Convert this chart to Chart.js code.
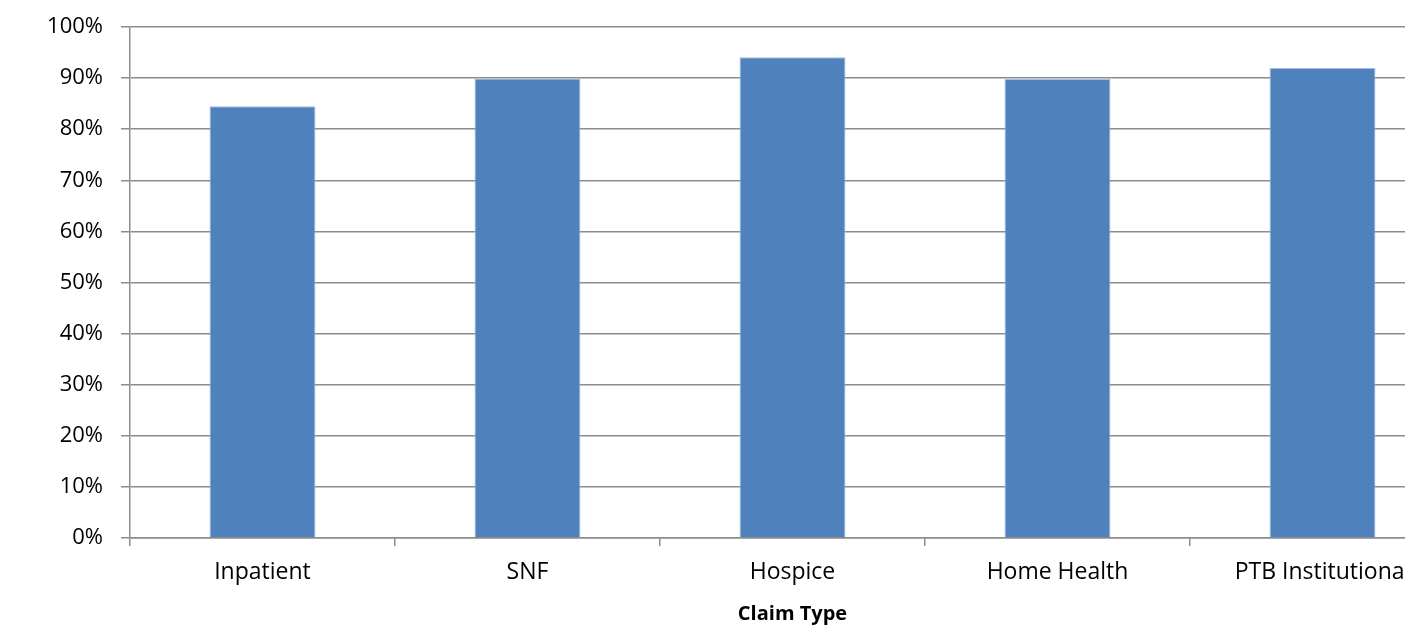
<!DOCTYPE html>
<html>
<head>
<meta charset="utf-8">
<title>Claim Type</title>
<script src="https://cdn.jsdelivr.net/npm/chart.js@4"></script>
<style>
  html, body { margin: 0; padding: 0; background: #fff; overflow: hidden; }
  #wrap { position: relative; width: 1465px; height: 630px; }
</style>
</head>
<body>
<div id="wrap"><canvas id="claimChart"></canvas></div>
<script>
// claim types and share per type (%)
const claimTypes = ["Inpatient", "SNF", "Hospice", "Home Health", "PTB Institutional"];
const claimShare = [84.5, 89.9, 94.1, 89.8, 92.0];
const yTicks = [0, 10, 20, 30, 40, 50, 60, 70, 80, 90, 100];

const FONT = "'Open Sans', 'DejaVu Sans', sans-serif";
const GRID = "#8c8c8c";

const ctx = document.getElementById("claimChart").getContext("2d");

window.claimChart = new Chart(ctx, {
  type: "bar",
  data: {
    labels: claimTypes,
    datasets: [
      {
        label: "Share",
        data: claimShare,
        backgroundColor: "#4f81bd",
        borderColor: "#a7bfe0",
        borderWidth: 1,
        categoryPercentage: 1,
        barPercentage: 0.4
      }
    ]
  },
  options: {
    responsive: true,
    maintainAspectRatio: false,
    animation: false,
    layout: { padding: { top: 27, right: 10, bottom: 0, left: 0 } },
    plugins: {
      legend: { display: false },
      tooltip: { enabled: false }
    },
    scales: {
      x: {
        offset: true,
        grid: {
          offset: true,
          drawOnChartArea: false,
          drawTicks: true,
          tickLength: 8,
          color: GRID,
          lineWidth: 1.5
        },
        border: { color: GRID, width: 1.5 },
        ticks: {
          color: "#000",
          font: { family: FONT, size: 23 },
          padding: 13,
          maxRotation: 0,
          autoSkip: false
        },
        title: {
          display: true,
          text: "Claim Type",
          color: "#000",
          font: { family: FONT, size: 20, weight: "bold" },
          padding: { top: 4, bottom: 4 }
        },
        afterFit: (scale) => { scale.height = 92; }
      },
      y: {
        min: 0,
        max: 100,
        afterBuildTicks: (scale) => {
          scale.ticks = yTicks.map(v => ({ value: v }));
        },
        grid: {
          color: GRID,
          lineWidth: 1.5,
          drawTicks: true,
          tickLength: 9
        },
        border: { color: GRID, width: 1.5 },
        ticks: {
          color: "#000",
          font: { family: FONT, size: 22 },
          padding: 18,
          callback: (v) => v + "%"
        },
        afterFit: (scale) => {
          // fixed axis width; the top label fits inside the layout padding
          scale.width = 130;
          scale.paddingTop = 0;
          scale.paddingBottom = 0;
        }
      }
    }
  }
});
</script>
</body>
</html>
